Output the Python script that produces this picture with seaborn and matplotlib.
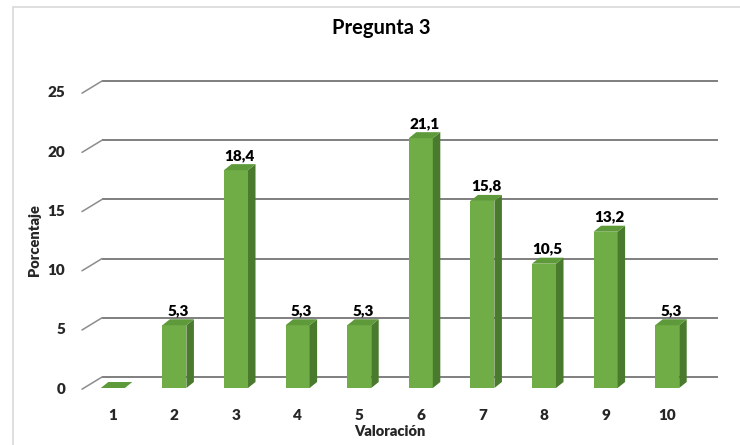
import matplotlib
matplotlib.use("Agg")
import matplotlib.pyplot as plt
from matplotlib.patches import Polygon
from matplotlib.lines import Line2D
import seaborn as sns
import pandas as pd

# Survey results: share of answers per rating
categorias = ["1", "2", "3", "4", "5", "6", "7", "8", "9", "10"]
porcentajes = [0.0, 5.3, 18.4, 5.3, 5.3, 21.1, 15.8, 10.5, 13.2, 5.3]
etiquetas = ["", "5,3", "18,4", "5,3", "5,3", "21,1", "15,8", "10,5", "13,2", "5,3"]
y_ticks = [0, 5, 10, 15, 20, 25]

titulo = "Pregunta 3"
eje_x = "Valoración"
eje_y = "Porcentaje"

sns.set_theme(style="white")
plt.rcParams["font.family"] = ["Lato", "DejaVu Sans"]
plt.rcParams["font.weight"] = "bold"
WT = "heavy"

W, H, DPI = 740, 445, 100
fig = plt.figure(figsize=(W / DPI, H / DPI), dpi=DPI)

# chart frame (top and left edges of the chart area)
frame = "#d9d9d9"
fig.add_artist(Line2D([12.5 / W, 1.0], [1 - 6.5 / H, 1 - 6.5 / H], transform=fig.transFigure,
                      color=frame, lw=1.2))
fig.add_artist(Line2D([12.5 / W, 12.5 / W], [0.0, 1 - 6.5 / H], transform=fig.transFigure,
                      color=frame, lw=1.2))

ax_left, ax_right, ax_top, ax_bot = 82, 698, 92, 388
ax = fig.add_axes([ax_left / W, 1 - ax_bot / H, (ax_right - ax_left) / W, (ax_bot - ax_top) / H])
ax.patch.set_alpha(0)

df = pd.DataFrame({"Valoración": categorias, "Porcentaje": porcentajes})
FRONT = "#70ad47"
SIDE = "#4a7a2d"
TOP = "#5e9a3a"
sns.barplot(data=df, x="Valoración", y="Porcentaje", order=categorias, color=FRONT,
            width=0.39, saturation=1, edgecolor="none", ax=ax, zorder=3)

ax.set_xlim(-0.5, len(categorias) - 0.5)
ax.set_ylim(0, 25)

# pixel -> data scale factors
px_x = (ax_right - ax_left) / (len(categorias))
px_y = (ax_bot - ax_top) / 25.0

# bar depth (side and top faces)
bars = list(ax.patches)
bdx, bdy = 7.5 / px_x, 6.0 / px_y
for p in bars:
    x0, w, h = p.get_x(), p.get_width(), p.get_height()
    x1 = x0 + w
    side = Polygon([(x1, 0), (x1 + bdx, bdy), (x1 + bdx, h + bdy), (x1, h)],
                   closed=True, facecolor=SIDE, edgecolor="none", zorder=3, clip_on=False)
    top = Polygon([(x0, h), (x1, h), (x1 + bdx, h + bdy), (x0 + bdx, h + bdy)],
                  closed=True, facecolor=TOP, edgecolor="none", zorder=3, clip_on=False)
    ax.add_patch(side)
    ax.add_patch(top)

# back wall gridlines and the perspective stubs on the left
gdx, gdy = 20 / px_x, 11 / px_y
x_lo, x_hi = ax.get_xlim()
for v in y_ticks:
    ax.plot([x_lo + gdx, x_hi + gdx], [v + gdy, v + gdy], color="#7f7f7f", lw=1.4,
            zorder=1, clip_on=False, solid_capstyle="butt")
    ax.plot([x_lo, x_lo + gdx], [v - 0.1, v + gdy], color="#8c8c8c", lw=1.1,
            zorder=1, clip_on=False)

# value labels above the bars
for p, lab in zip(bars, etiquetas):
    if not lab:
        continue
    cx = p.get_x() + p.get_width() / 2 + bdx / 2
    ax.text(cx, p.get_height() + bdy + 0.2, lab, ha="center", va="bottom", fontsize=11,
            fontweight=WT, color="black", zorder=4)

ax.set_yticks(y_ticks)
ax.set_yticklabels([str(t) for t in y_ticks], fontsize=11, fontweight=WT)
ax.set_xticks(range(len(categorias)))
ax.set_xticklabels(categorias, fontsize=11, fontweight=WT)
ax.tick_params(axis="y", length=0, pad=12)
ax.tick_params(axis="x", length=0, pad=15)
for s in ax.spines.values():
    s.set_visible(False)
ax.grid(False)

ax.set_xlabel(eje_x, fontsize=10.5, fontweight=WT, labelpad=2)
ax.set_ylabel(eje_y, fontsize=10.5, fontweight=WT, labelpad=5)

fig.text(381 / W, 1 - 28 / H, titulo, ha="center", va="center",
         fontsize=14.5, fontweight="bold", color="black")

fig.savefig("out.png", dpi=DPI)
